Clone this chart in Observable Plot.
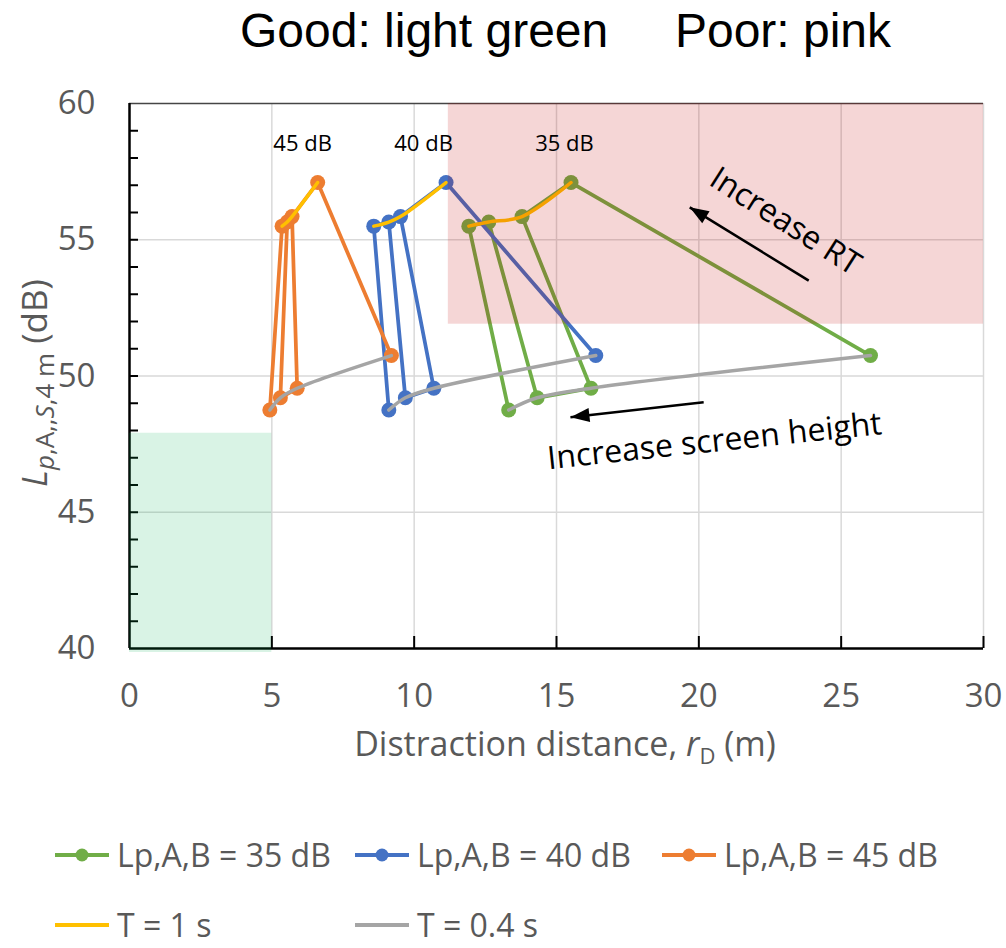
<!DOCTYPE html>
<html><head><meta charset="utf-8">
<script src="https://cdn.jsdelivr.net/npm/d3@7"></script>
<script src="https://cdn.jsdelivr.net/npm/@observablehq/plot@0.6"></script>
<style>
body{margin:0;background:#fff;width:1006px;height:948px;overflow:hidden;font-family:"Open Sans",sans-serif;}
#title{font-family:"Liberation Sans",Arial,sans-serif;font-size:48px;line-height:48px;height:63px;padding-top:7px;padding-left:240px;white-space:pre;color:#000;}
#chart{height:698px;}
#legend{position:relative;height:180px;}
.item{position:absolute;display:flex;align-items:center;height:34px;line-height:34px;font-size:32px;color:#595959;white-space:pre;}
.item svg{margin-right:8px;}
</style></head><body>
<div id="title">Good: light green     Poor: pink</div>
<div id="chart"></div>
<div id="legend"></div>
<script>
// ---- data ----
const seriesNames = ["Lp,A,B = 35 dB", "Lp,A,B = 40 dB", "Lp,A,B = 45 dB"];
const seriesColors = ["#70AD47", "#4472C4", "#ED7D31"];
const tNames = ["T = 1 s", "T = 0.4 s"];
const tColors = ["#FFC000", "#A5A5A5"];
// Lp,A,S,4m (dB) for the four screen heights
const lpT1 = [55.5, 55.65, 55.85, 57.1];
const lpT04 = [48.75, 49.2, 49.55, 50.75];
// distraction distance rD (m)
const rdT1_35 = [11.92, 12.62, 13.79, 15.51];
const rdT04_35 = [13.32, 14.32, 16.21, 26.03];
const rdT1_40 = [8.58, 9.11, 9.52, 11.12];
const rdT04_40 = [9.11, 9.69, 10.69, 16.38];
const rdT1_45 = [5.36, 5.54, 5.71, 6.61];
const rdT04_45 = [4.93, 5.30, 5.89, 9.20];
const xTicks = [0, 5, 10, 15, 20, 25, 30];
const yTicks = [40, 45, 50, 55, 60];
const goodZoneX = [0, 5], goodZoneY = [40, 47.9];
const poorZoneX = [11.2, 30], poorZoneY = [51.9, 60];
const dbLabels = ["45 dB", "40 dB", "35 dB"];
const dbLabelX = [6.08, 10.33, 15.28];
const dbLabelY = [58.53, 58.53, 58.53];
const noteTexts = ["Increase RT", "Increase screen height"];
const noteX = [23.04, 20.55];
const noteY = [55.67, 47.6];
const noteAngle = [32.5, -6];
const arrowX1 = [23.86, 20.17], arrowY1 = [53.5, 49.04];
const arrowX2 = [19.68, 15.49], arrowY2 = [56.19, 48.49];

// ---- layout ----
const W = 1006, H = 698, ML = 129, MR = 23, MT = 33, MB = 120;
const kx = (W - ML - MR) / 30, ky = (H - MT - MB) / 20;

const rdT1 = [rdT1_35, rdT1_40, rdT1_45];
const rdT04 = [rdT04_35, rdT04_40, rdT04_45];
const zig = [[0,"b"],[0,"t"],[1,"t"],[1,"b"],[2,"b"],[2,"t"],[3,"t"],[3,"b"]];
const seriesRows = seriesNames.map((s, si) => zig.map(([i, k]) => ({
  series: s,
  rd: k === "t" ? rdT1[si][i] : rdT04[si][i],
  lp: k === "t" ? lpT1[i] : lpT04[i]
})));
const topRows = seriesNames.flatMap((s, si) => lpT1.map((lp, i) => ({series: s, rd: rdT1[si][i], lp})));
const botRows = seriesNames.flatMap((s, si) => lpT04.map((lp, i) => ({series: s, rd: rdT04[si][i], lp})));
const labels = dbLabels.map((t, i) => ({t, x: dbLabelX[i], y: dbLabelY[i]}));
const notes = noteTexts.map((t, i) => ({t, x: noteX[i], y: noteY[i], a: noteAngle[i]}));
const arrows = arrowX1.map((x1, i) => ({
  x1, y1: arrowY1[i], x2: arrowX2[i], y2: arrowY2[i],
  angle: Math.atan2((arrowX2[i] - x1) * kx, (arrowY2[i] - arrowY1[i]) * ky) * 180 / Math.PI
}));
const arrowHead = {draw(ctx) { ctx.moveTo(0, 0); ctx.lineTo(7, 19); ctx.lineTo(-7, 19); ctx.closePath(); }};

const grid = {stroke: "#d9d9d9", strokeOpacity: 1, strokeWidth: 1.5};
const marks = [
  Plot.gridX(xTicks.slice(1), grid),
  Plot.gridY(yTicks.slice(1, -1), grid),
  Plot.ruleY([60], {stroke: "#454545", strokeWidth: 1.5}),
  Plot.axisX({ticks: xTicks, tickSize: 0, tickPadding: 35, fontSize: 33, label: null}),
  Plot.axisY({ticks: yTicks, tickSize: 0, tickPadding: 34, fontSize: 33, label: null}),
  Plot.axisY({ticks: d3.range(41, 60), tickSize: -9, text: null, label: null, stroke: "black", strokeWidth: 2}),
  Plot.axisX({ticks: xTicks.slice(1), tickSize: -12, text: null, label: null, stroke: "black", strokeWidth: 2}),
  Plot.ruleX([0], {stroke: "black", strokeWidth: 2.5}),
  Plot.ruleY([40], {stroke: "black", strokeWidth: 2.5})
];
seriesRows.forEach((rows, si) => {
  marks.push(Plot.line(rows, {x: "rd", y: "lp", stroke: seriesColors[si], strokeWidth: 3.75}));
  marks.push(Plot.dot(rows, {x: "rd", y: "lp", fill: seriesColors[si], r: 7.5}));
});
marks.push(
  Plot.line(topRows, {x: "rd", y: "lp", z: "series", stroke: tColors[0], strokeWidth: 3.5, curve: "catmull-rom"}),
  Plot.line(botRows, {x: "rd", y: "lp", z: "series", stroke: tColors[1], strokeWidth: 3.5, curve: "catmull-rom"}),
  Plot.rect([0], {x1: poorZoneX[0], x2: poorZoneX[1], y1: poorZoneY[0], y2: poorZoneY[1], fill: "#c00000", fillOpacity: 0.16}),
  Plot.rect([0], {x1: goodZoneX[0], x2: goodZoneX[1], y1: goodZoneY[0], y2: goodZoneY[1], fill: "#00b050", fillOpacity: 0.15, insetBottom: -4}),
  Plot.text(labels, {x: "x", y: "y", text: "t", fontSize: 22, fill: "black"}),
  Plot.text(notes, {x: "x", y: "y", text: "t", rotate: "a", fontSize: 32, fill: "black"}),
  Plot.link(arrows, {x1: "x1", y1: "y1", x2: "x2", y2: "y2", stroke: "black", strokeWidth: 2.5}),
  Plot.dot(arrows, {x: "x2", y: "y2", rotate: "angle", symbol: arrowHead, fill: "black", stroke: "none", r: 6})
);

const chart = Plot.plot({
  width: W, height: H, marginLeft: ML, marginRight: MR, marginTop: MT, marginBottom: MB,
  style: {fontFamily: "'Open Sans', sans-serif", color: "#595959", background: "white", overflow: "visible"},
  x: {domain: [0, 30]},
  y: {domain: [40, 60]},
  marks
});
document.getElementById("chart").appendChild(chart);

// axis titles with italic and subscript parts
const svg = d3.select(chart);
const xl = svg.append("text").attr("x", 565).attr("y", 686).attr("text-anchor", "middle")
  .attr("font-size", 34).attr("fill", "#595959");
xl.append("tspan").text("Distraction distance, ");
xl.append("tspan").attr("font-style", "italic").text("r");
xl.append("tspan").attr("font-size", 22).attr("dy", 8).text("D");
xl.append("tspan").attr("dy", -8).text(" (m)");

const yl = svg.append("text").attr("transform", `translate(47,${383 - 70}) rotate(-90)`)
  .attr("text-anchor", "middle").attr("font-size", 35).attr("fill", "#595959");
yl.append("tspan").attr("font-style", "italic").text("L");
const sub = yl.append("tspan").attr("font-size", 26).attr("dy", 7);
sub.append("tspan").attr("font-style", "italic").text("p");
sub.append("tspan").text(",A,,");
sub.append("tspan").attr("font-style", "italic").text("S");
sub.append("tspan").text(",4 m");
yl.append("tspan").attr("dy", -7).text(" (dB)");

// legend
const legend = document.getElementById("legend");
const items = [
  {label: seriesNames[0], color: seriesColors[0], dot: true, left: 55, top: 70},
  {label: seriesNames[1], color: seriesColors[1], dot: true, left: 355, top: 70},
  {label: seriesNames[2], color: seriesColors[2], dot: true, left: 662, top: 70},
  {label: tNames[0], color: tColors[0], dot: false, left: 55, top: 140},
  {label: tNames[1], color: tColors[1], dot: false, left: 355, top: 140}
];
items.forEach(it => {
  const div = document.createElement("div");
  div.className = "item";
  div.style.left = it.left + "px";
  div.style.top = it.top + "px";
  div.innerHTML = `<svg width="54" height="34"><line x1="0" x2="54" y1="17" y2="17" stroke="${it.color}" stroke-width="4"/>` +
    (it.dot ? `<circle cx="27" cy="17" r="6.5" fill="${it.color}"/>` : "") + `</svg><span>${it.label}</span>`;
  legend.appendChild(div);
});
</script>
</body></html>
